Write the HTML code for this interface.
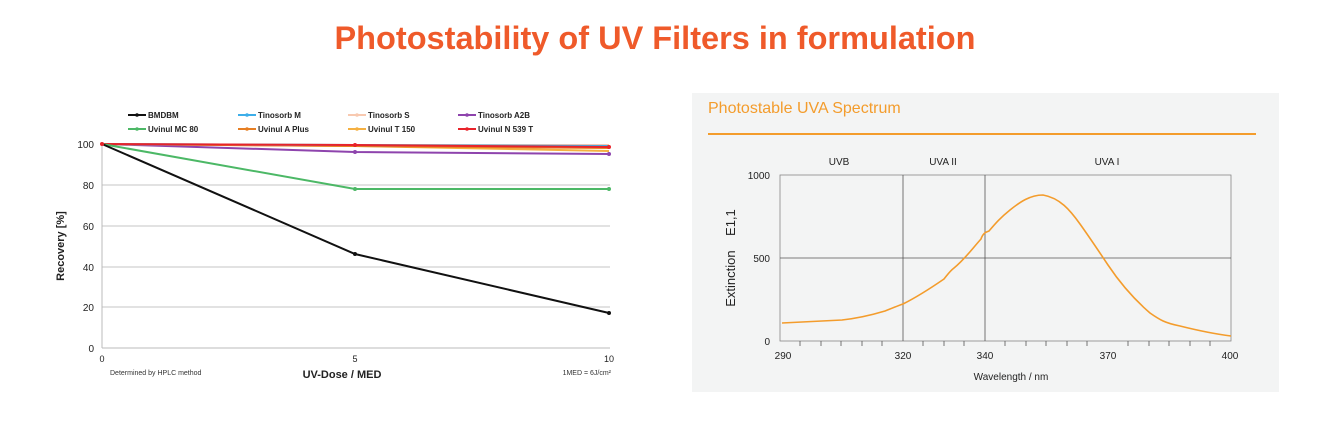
<!DOCTYPE html><html><head><style>body{margin:0;background:#fff;width:1340px;height:435px;overflow:hidden;font-family:"Liberation Sans",sans-serif}</style></head><body>
<svg width="1340" height="435" xmlns="http://www.w3.org/2000/svg" font-family="Liberation Sans, sans-serif">
<text x="655" y="49" text-anchor="middle" font-size="32.5" font-weight="bold" fill="#ef5a2a">Photostability of UV Filters in formulation</text>
<!-- left chart -->
<g stroke="#e2e2e2" stroke-width="2"><line x1="102" y1="185" x2="610" y2="185"/><line x1="102" y1="226" x2="610" y2="226"/><line x1="102" y1="267" x2="610" y2="267"/><line x1="102" y1="307" x2="610" y2="307"/></g>
<line x1="102" y1="144" x2="102" y2="348" stroke="#bbb"/><line x1="102" y1="348" x2="610" y2="348" stroke="#bbb"/>
<g font-size="10" fill="#222" text-anchor="end"><text x="94" y="148">100</text><text x="94" y="189">80</text><text x="94" y="230">60</text><text x="94" y="271">40</text><text x="94" y="311">20</text><text x="94" y="352">0</text></g>
<g font-size="9" fill="#222" text-anchor="middle"><text x="102" y="362">0</text><text x="355" y="362">5</text><text x="609" y="362">10</text></g>
<text x="64" y="246" font-size="11" font-weight="bold" fill="#222" text-anchor="middle" transform="rotate(-90 64 246)">Recovery [%]</text>
<text x="342" y="378" font-size="11" font-weight="bold" fill="#222" text-anchor="middle">UV-Dose / MED</text>
<text x="110" y="375" font-size="7" fill="#333">Determined by HPLC method</text>
<text x="611" y="375" font-size="7" fill="#333" text-anchor="end">1MED = 6J/cm²</text>
<g fill="none" stroke-width="2">
<polyline stroke="#8e44ad" points="102,144 355,152 609,154"/>
<polyline stroke="#f5b041" points="102,144 355,146 609,151"/>
<polyline stroke="#e67e22" points="102,144 355,146 609,148"/>
<polyline stroke="#f8c9b0" points="102,144 355,145 609,145"/>
<polyline stroke="#3daee9" points="102,144 355,145 609,146"/>
<polyline stroke="#e8232a" points="102,144 355,145 609,147"/>
<polyline stroke="#4cb866" points="102,144 355,189 609,189"/>
<polyline stroke="#111" points="102,144 355,254 609,313"/>
</g>
<g><circle cx="102" cy="144" r="2" fill="#e8232a"/><circle cx="355" cy="254" r="2" fill="#111"/><circle cx="609" cy="313" r="2" fill="#111"/><circle cx="355" cy="189" r="2" fill="#4cb866"/><circle cx="609" cy="189" r="2" fill="#4cb866"/><circle cx="355" cy="152" r="2" fill="#8e44ad"/><circle cx="609" cy="154" r="2" fill="#8e44ad"/><circle cx="355" cy="145" r="2" fill="#e8232a"/><circle cx="609" cy="147" r="2" fill="#e8232a"/></g>
<g font-size="8" font-weight="bold" fill="#222" stroke-width="2">
<line x1="128" y1="115" x2="146" y2="115" stroke="#111"/><circle cx="137" cy="115" r="1.8" fill="#111"/><text x="148" y="118">BMDBM</text>
<line x1="238" y1="115" x2="256" y2="115" stroke="#3daee9"/><circle cx="247" cy="115" r="1.8" fill="#3daee9"/><text x="258" y="118">Tinosorb M</text>
<line x1="348" y1="115" x2="366" y2="115" stroke="#f8c9b0"/><circle cx="357" cy="115" r="1.8" fill="#f8c9b0"/><text x="368" y="118">Tinosorb S</text>
<line x1="458" y1="115" x2="476" y2="115" stroke="#8e44ad"/><circle cx="467" cy="115" r="1.8" fill="#8e44ad"/><text x="478" y="118">Tinosorb A2B</text>
<line x1="128" y1="129" x2="146" y2="129" stroke="#4cb866"/><circle cx="137" cy="129" r="1.8" fill="#4cb866"/><text x="148" y="132">Uvinul MC 80</text>
<line x1="238" y1="129" x2="256" y2="129" stroke="#e67e22"/><circle cx="247" cy="129" r="1.8" fill="#e67e22"/><text x="258" y="132">Uvinul A Plus</text>
<line x1="348" y1="129" x2="366" y2="129" stroke="#f5b041"/><circle cx="357" cy="129" r="1.8" fill="#f5b041"/><text x="368" y="132">Uvinul T 150</text>
<line x1="458" y1="129" x2="476" y2="129" stroke="#e8232a"/><circle cx="467" cy="129" r="1.8" fill="#e8232a"/><text x="478" y="132">Uvinul N 539 T</text>
</g>
<!-- right panel -->
<rect x="692" y="93" width="587" height="299" fill="#f3f4f4"/>
<text x="708" y="113" font-size="16" fill="#f39c2c">Photostable UVA Spectrum</text>
<line x1="708" y1="134" x2="1256" y2="134" stroke="#f39c2c" stroke-width="2"/>
<rect x="780" y="175" width="451" height="166" fill="none" stroke="#888" stroke-width="0.8"/>
<g stroke="#555" stroke-width="0.8"><line x1="903" y1="175" x2="903" y2="341"/><line x1="985" y1="175" x2="985" y2="341"/><line x1="780" y1="258" x2="1231" y2="258"/></g>
<g stroke="#555" stroke-width="0.8">
<line x1="800" y1="341" x2="800" y2="346"/><line x1="821" y1="341" x2="821" y2="346"/><line x1="841" y1="341" x2="841" y2="346"/><line x1="862" y1="341" x2="862" y2="346"/><line x1="882" y1="341" x2="882" y2="346"/><line x1="923" y1="341" x2="923" y2="346"/><line x1="944" y1="341" x2="944" y2="346"/><line x1="964" y1="341" x2="964" y2="346"/><line x1="1005" y1="341" x2="1005" y2="346"/><line x1="1026" y1="341" x2="1026" y2="346"/><line x1="1046" y1="341" x2="1046" y2="346"/><line x1="1067" y1="341" x2="1067" y2="346"/><line x1="1087" y1="341" x2="1087" y2="346"/><line x1="1128" y1="341" x2="1128" y2="346"/><line x1="1149" y1="341" x2="1149" y2="346"/><line x1="1169" y1="341" x2="1169" y2="346"/><line x1="1190" y1="341" x2="1190" y2="346"/><line x1="1210" y1="341" x2="1210" y2="346"/>
</g>
<g font-size="10" fill="#222" text-anchor="middle"><text x="783" y="359">290</text><text x="903" y="359">320</text><text x="985" y="359">340</text><text x="1108" y="359">370</text><text x="1230" y="359">400</text>
<text x="839" y="165">UVB</text><text x="943" y="165">UVA II</text><text x="1107" y="165">UVA I</text>
<text x="1011" y="380">Wavelength / nm</text></g>
<g font-size="10" fill="#222" text-anchor="end"><text x="770" y="179">1000</text><text x="770" y="262">500</text><text x="770" y="345">0</text></g>
<text x="735" y="258" font-size="13" fill="#222" text-anchor="middle" transform="rotate(-90 735 258)" xml:space="preserve">Extinction    E1,1</text>
<path fill="none" stroke="#f39c2c" stroke-width="1.6" d="M782,323 L842,320 C860,318 875,314 885,311 C895,307 900,305 903,304 C915,298 928,290 944,279 C948,274 950,271 954,268 C965,259 972,249 981,239 C983,233 986,232 989,231 C995,224 1000,218 1010,210 C1020,202 1030,195 1043,195 C1060,198 1070,210 1080,224 C1090,238 1100,253 1108,265 C1120,283 1135,300 1150,313 C1160,320 1165,323 1180,326 C1200,331 1215,334 1231,336"/>
</svg></body></html>
